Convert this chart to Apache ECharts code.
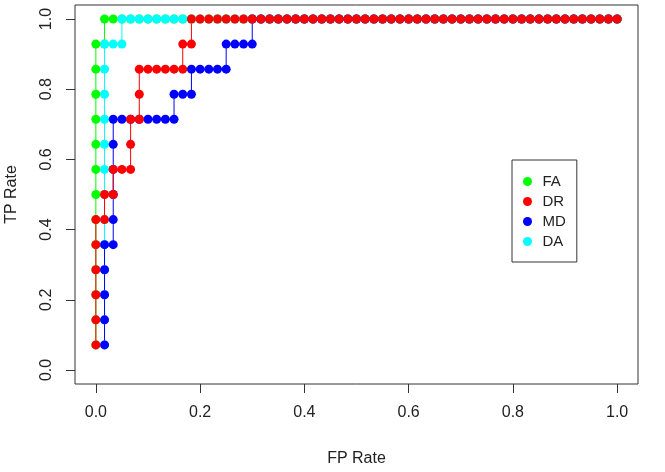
<!DOCTYPE html>
<html>
<head>
<meta charset="utf-8">
<script src="https://cdn.jsdelivr.net/npm/echarts@6/dist/echarts.min.js"></script>
<style>
  html, body { margin: 0; padding: 0; background: #fff; }
  #main { width: 665px; height: 472px; }
</style>
</head>
<body>
<div id="main"></div>
<script>
// counts: 60 negatives, 14 positives
const nNeg = 60;
const nPos = 14;

const tickValues = [0, 0.2, 0.4, 0.6, 0.8, 1.0];
const legendNames = ['FA', 'DR', 'MD', 'DA'];

// FA (green)
const faFP = [0,0,0,0,0,0,0,0,0,0,0,0,0,1,1,2,3,4,5,6,7,8,9,10,11,12,13,14,15,16,17,18,19,20,21,22,23,24,25,26,27,28,29,30,31,32,33,34,35,36,37,38,39,40,41,42,43,44,45,46,47,48,49,50,51,52,53,54,55,56,57,58,59,60];
const faTP = [1,2,3,4,5,6,7,8,9,10,11,12,13,13,14,14,14,14,14,14,14,14,14,14,14,14,14,14,14,14,14,14,14,14,14,14,14,14,14,14,14,14,14,14,14,14,14,14,14,14,14,14,14,14,14,14,14,14,14,14,14,14,14,14,14,14,14,14,14,14,14,14,14,14];

// DA (cyan)
const daFP = [1,1,1,1,1,1,1,1,1,1,1,1,1,2,3,3,4,5,6,7,8,9,10,11,12,13,14,15,16,17,18,19,20,21,22,23,24,25,26,27,28,29,30,31,32,33,34,35,36,37,38,39,40,41,42,43,44,45,46,47,48,49,50,51,52,53,54,55,56,57,58,59,60];
const daTP = [1,2,3,4,5,6,7,8,9,10,11,12,13,13,13,14,14,14,14,14,14,14,14,14,14,14,14,14,14,14,14,14,14,14,14,14,14,14,14,14,14,14,14,14,14,14,14,14,14,14,14,14,14,14,14,14,14,14,14,14,14,14,14,14,14,14,14,14,14,14,14,14,14];

// MD (blue)
const mdFP = [1,1,1,1,1,2,2,2,2,2,2,3,4,5,6,7,8,9,9,10,11,11,12,13,14,15,15,16,17,18,18,19,20,21,22,23,24,25,26,27,28,29,30,31,32,33,34,35,36,37,38,39,40,41,42,43,44,45,46,47,48,49,50,51,52,53,54,55,56,57,58,59,60];
const mdTP = [1,2,3,4,5,5,6,7,8,9,10,10,10,10,10,10,10,10,11,11,11,12,12,12,12,12,13,13,13,13,14,14,14,14,14,14,14,14,14,14,14,14,14,14,14,14,14,14,14,14,14,14,14,14,14,14,14,14,14,14,14,14,14,14,14,14,14,14,14,14,14,14,14];

// DR (red)
const drFP = [0,0,0,0,0,0,1,1,2,2,3,4,4,4,5,5,5,6,7,8,9,10,10,11,11,12,13,14,15,16,17,18,19,20,21,22,23,24,25,26,27,28,29,30,31,32,33,34,35,36,37,38,39,40,41,42,43,44,45,46,47,48,49,50,51,52,53,54,55,56,57,58,59,60];
const drTP = [1,2,3,4,5,6,6,7,7,8,8,8,9,10,10,11,12,12,12,12,12,12,13,13,14,14,14,14,14,14,14,14,14,14,14,14,14,14,14,14,14,14,14,14,14,14,14,14,14,14,14,14,14,14,14,14,14,14,14,14,14,14,14,14,14,14,14,14,14,14,14,14,14,14];

const colors = { FA: '#00ff00', DR: '#ff0000', MD: '#0000ff', DA: '#00ffff' };

function toPoints(fp, tp) {
  return fp.map((v, k) => [v / nNeg, tp[k] / nPos]);
}

function rocSeries(name, fp, tp) {
  return {
    name: name,
    type: 'line',
    data: toPoints(fp, tp),
    symbol: 'circle',
    symbolSize: 9,
    showAllSymbol: true,
    color: colors[name],
    lineStyle: { width: 1, color: colors[name] },
    itemStyle: { color: colors[name] },
    emphasis: { disabled: true }
  };
}

const font = "'Liberation Sans', Arial, Helvetica, sans-serif";

let myChart = echarts.init(document.getElementById('main'));
let option = {
  animation: false,
  backgroundColor: '#fff',
  textStyle: { fontFamily: font },
  grid: {
    show: true,
    left: 75, right: 27, top: 5, bottom: 88,
    borderColor: '#333',
    borderWidth: 1,
    containLabel: false,
    outerBoundsMode: 'none'
  },
  legend: {
    data: legendNames,
    orient: 'vertical',
    left: 512,
    top: 160,
    icon: 'circle',
    itemWidth: 20,
    itemHeight: 9,
    itemGap: 5,
    padding: [14, 11, 13, 11],
    borderColor: '#333',
    borderWidth: 1,
    textStyle: { fontSize: 15, lineHeight: 15, color: '#222', fontFamily: font, padding: [0, 0, 0, 0] }
  },
  xAxis: {
    type: 'value',
    min: -0.04,
    max: 1.04,
    name: 'FP Rate',
    nameLocation: 'middle',
    nameGap: 67,
    nameTextStyle: { fontSize: 16, color: '#222', fontFamily: font },
    axisLine: { show: false, onZero: false },
    axisTick: { show: true, inside: false, length: 9, customValues: tickValues, lineStyle: { color: '#333' } },
    axisLabel: {
      customValues: tickValues,
      margin: 21,
      fontSize: 16,
      color: '#222',
      fontFamily: font,
      formatter: v => v.toFixed(1)
    },
    splitLine: { show: false }
  },
  yAxis: {
    type: 'value',
    min: -0.04,
    max: 1.04,
    name: 'TP Rate',
    nameLocation: 'middle',
    nameGap: 55,
    nameTextStyle: { fontSize: 16, color: '#222', fontFamily: font },
    axisLine: { show: false, onZero: false },
    axisTick: { show: true, inside: false, length: 9, customValues: tickValues, lineStyle: { color: '#333' } },
    axisLabel: {
      customValues: tickValues,
      rotate: 90,
      margin: 20,
      fontSize: 16,
      color: '#222',
      fontFamily: font,
      formatter: v => v.toFixed(1)
    },
    splitLine: { show: false }
  },
  series: [
    rocSeries('FA', faFP, faTP),
    rocSeries('DA', daFP, daTP),
    rocSeries('MD', mdFP, mdTP),
    rocSeries('DR', drFP, drTP)
  ]
};
option && myChart.setOption(option);
</script>
</body>
</html>
